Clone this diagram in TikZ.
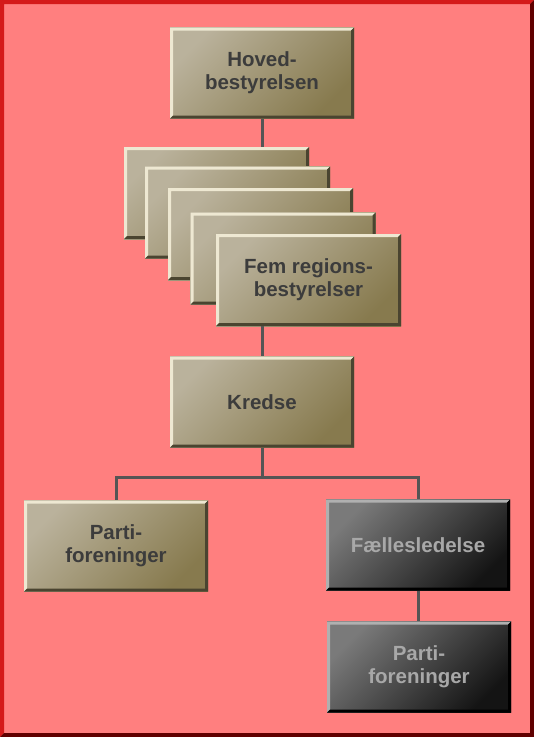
\documentclass[tikz,border=0pt]{standalone}
\usepackage{fontspec}
\setmainfont{Liberation Sans}
\usetikzlibrary{calc}
\definecolor{bg}{HTML}{FF7F7F}
\definecolor{frL}{HTML}{D41A1A}
\definecolor{frD}{HTML}{600000}
\definecolor{tanL}{HTML}{BAB29C}
\definecolor{tanD}{HTML}{877A4E}
\definecolor{bevL}{HTML}{EEE8D2}
\definecolor{bevD}{HTML}{4A4430}
\definecolor{txt}{HTML}{3C3C3C}
\definecolor{gryL}{HTML}{7A7A7A}
\definecolor{gryD}{HTML}{141414}
\definecolor{gbevL}{HTML}{B0B0B0}
\definecolor{gbevD}{HTML}{000000}
\definecolor{gtxt}{HTML}{A8A8A8}
\definecolor{conn}{HTML}{555555}
\tikzset{
  bevel/.style 2 args={path picture={
    \fill[#1] (path picture bounding box.north west) -- (path picture bounding box.north east)
      -- ([shift={(-3pt,-3pt)}]path picture bounding box.north east)
      -- ([shift={(3pt,-3pt)}]path picture bounding box.north west)
      -- ([shift={(3pt,3pt)}]path picture bounding box.south west)
      -- (path picture bounding box.south west) -- cycle;
    \fill[#2] (path picture bounding box.south east) -- (path picture bounding box.south west)
      -- ([shift={(3pt,3pt)}]path picture bounding box.south west)
      -- ([shift={(-3pt,3pt)}]path picture bounding box.south east)
      -- ([shift={(-3pt,-3pt)}]path picture bounding box.north east)
      -- (path picture bounding box.north east) -- cycle;
  }},
  boxbase/.style={draw=none, minimum width=184pt, minimum height=91pt, inner sep=0pt,
    align=center, font=\fontsize{20.5}{23}\selectfont\bfseries},
  tanbox/.style={boxbase, text=txt, top color=tanL, bottom color=tanD, shading angle=45,
    bevel={bevL}{bevD}},
  darkbox/.style={boxbase, text=gtxt, top color=gryL, bottom color=gryD, shading angle=45,
    bevel={gbevL}{gbevD}},
  conline/.style={draw=conn, line width=3pt},
}
\begin{document}
\begin{tikzpicture}[x=1pt,y=-1pt]
  % background with bevelled frame
  \fill[bg] (0,0) rectangle (534,737);
  \fill[frL] (0,0) -- (534,0) -- (530,4) -- (4,4) -- (4,733) -- (0,737) -- cycle;
  \fill[frD] (534,737) -- (0,737) -- (4,733) -- (530,733) -- (530,4) -- (534,0) -- cycle;
  \useasboundingbox (0,0) rectangle (534,737);

  \node[tanbox] (hoved) at (262,73) {Hoved-\\bestyrelsen};

  \node[tanbox, minimum width=185pt, minimum height=92pt] (s1) at (216.5,193) {};
  \node[tanbox, minimum width=185pt, minimum height=92pt] (s2) at (237.5,212.5) {};
  \node[tanbox, minimum width=185pt, minimum height=92pt] (s3) at (260.5,234) {};
  \node[tanbox, minimum width=185pt, minimum height=92pt] (s4) at (283,258.5) {};
  \node[tanbox, minimum width=185pt, minimum height=92pt] (s5) at (308.5,280) {Fem regions-\\bestyrelser};

  \node[tanbox] (kredse) at (262,402) {Kredse};
  \node[tanbox] (pl) at (116,546) {Parti-\\foreninger};
  \node[darkbox] (fael) at (418,545) {Fællesledelse};
  \node[darkbox] (pr) at (419,667) {Parti-\\foreninger};

  \draw[conline] (hoved.south) -- (hoved.south |- s1.north);
  \draw[conline] (kredse.north |- s5.south) -- (kredse.north);
  \draw[conline] (kredse.south) -- ++(0,30) coordinate (kj);
  \draw[conline] (kj) -| (pl.north);
  \draw[conline] (kj) -| (fael.north);
  \draw[conline] (fael.south) -- (fael.south |- pr.north);
\end{tikzpicture}
\end{document}
